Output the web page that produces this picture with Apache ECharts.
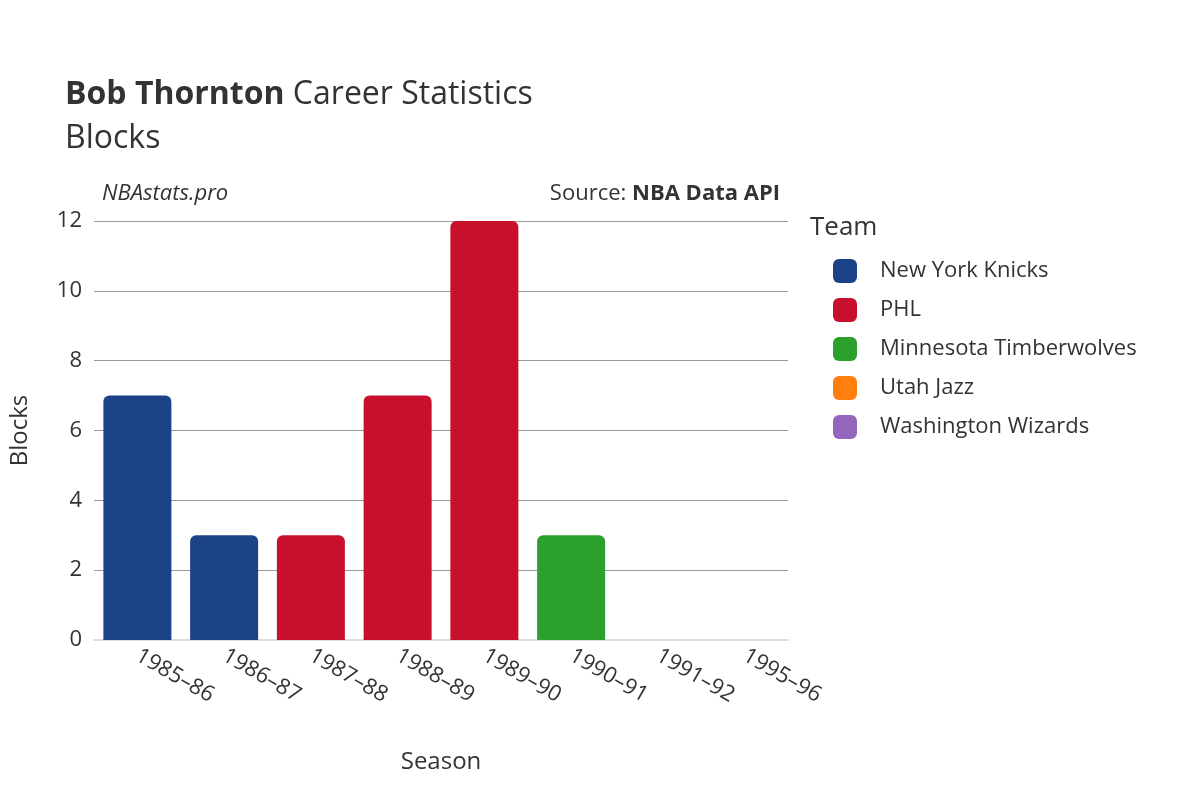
<!DOCTYPE html>
<html><head><meta charset="utf-8">
<script src="https://cdn.jsdelivr.net/npm/echarts@6/dist/echarts.min.js"></script>
<style>html,body{margin:0;padding:0;background:#fff}#c{width:1200px;height:800px}</style>
</head><body><div id="c"></div>
<script>
const seasons = ['1985–86','1986–87','1987–88','1988–89','1989–90','1990–91','1991–92','1995–96'];
const teams = ['New York Knicks','PHL','Minnesota Timberwolves','Utah Jazz','Washington Wizards'];
const colors = ['#1c4287','#c8102e','#2ca02c','#ff7f0e','#9467bd'];
const knicks = [7,3,null,null,null,null,null,null];
const phl = [null,null,3,7,12,null,null,null];
const wolves = [null,null,null,null,null,3,null,null];
const jazz = [null,null,null,null,null,null,0,null];
const wizards = [null,null,null,null,null,null,null,0];
const yTicks = {min:0,max:12,interval:2};
const values = [knicks,phl,wolves,jazz,wizards];
const F = 'Open Sans';
const chart = echarts.init(document.getElementById('c'));
chart.setOption({
  animation:false,
  textStyle:{fontFamily:F},
  title:[
    {text:'{b|Bob Thornton} Career Statistics\nBlocks',left:60,top:68,textStyle:{fontSize:32,color:'#333',fontWeight:'normal',lineHeight:44,rich:{b:{fontSize:32,fontWeight:'bold',color:'#333'}}}},
    {text:'NBAstats.pro',left:97,top:178,textStyle:{fontSize:22,fontStyle:'italic',fontWeight:'normal',color:'#333'}},
    {text:'Source: {b|NBA Data API}',right:415,top:178,textStyle:{fontSize:22,fontWeight:'normal',color:'#333',rich:{b:{fontSize:22,fontWeight:'bold',color:'#333'}}}},
    {text:'Team',left:805,top:210,textStyle:{fontSize:26,fontWeight:'normal',color:'#333'}}
  ],
  legend:{orient:'vertical',left:828,top:254,itemGap:15,itemWidth:24,itemHeight:24,icon:'roundRect',
    textStyle:{fontSize:22,color:'#333',padding:[0,0,0,18]},data:teams},
  grid:{left:92,right:412,top:221,bottom:160,containLabel:false},
  xAxis:{type:'category',data:seasons,name:'Season',nameLocation:'middle',nameGap:110,
    nameTextStyle:{fontSize:24,color:'#333'},
    axisLine:{show:true,lineStyle:{color:'#ddd',width:2}},axisTick:{show:false},
    axisLabel:{rotate:-30,fontSize:22,color:'#333',margin:14,interval:0}},
  yAxis:{type:'value',min:yTicks.min,max:yTicks.max,interval:yTicks.interval,name:'Blocks',nameLocation:'middle',nameGap:62,
    nameTextStyle:{fontSize:24,color:'#333'},
    axisLabel:{fontSize:22,color:'#333',margin:12},
    splitLine:{lineStyle:{color:'#999',width:1}}},
  series: teams.map((t,i)=>({name:t,type:'bar',stack:'s',data:values[i],barWidth:68,
    itemStyle:{color:colors[i],borderRadius:[6,6,0,0]}}))
});
</script></body></html>
